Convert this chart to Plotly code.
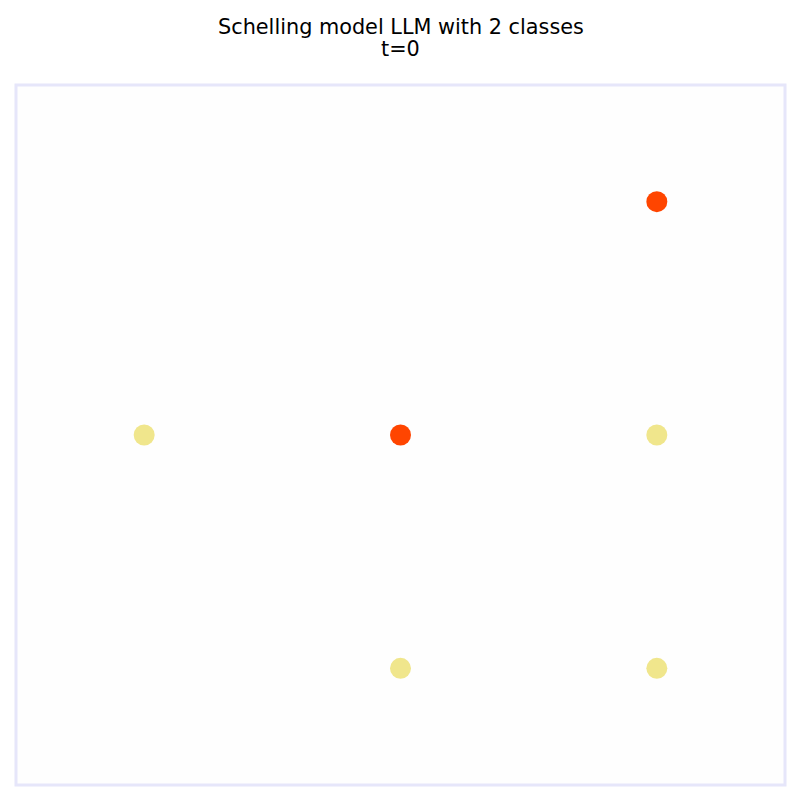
import plotly.graph_objects as go

# Grid cells occupied by agents (column, row) and their class
xs = [0, 1, 2, 2, 1, 2]
ys = [1, 1, 2, 1, 0, 0]
classes = ["khaki", "orangered", "orangered", "khaki", "khaki", "khaki"]
title_lines = ["Schelling model LLM with 2 classes", "t=0"]
grid_size = 3

fig = go.Figure()
fig.add_trace(go.Scatter(
    x=xs, y=ys, mode="markers",
    marker=dict(color=classes, size=21, line=dict(width=0)),
    hoverinfo="skip", showlegend=False,
))

H, T, B = 800, 84.5, 15
plot_h = H - T - B
line_centers_px = [26, 48]
for txt, ypx in zip(title_lines, line_centers_px):
    fig.add_annotation(text=txt, xref="paper", yref="paper", x=0.5,
                       y=(H - B - ypx) / plot_h, xanchor="center", yanchor="middle",
                       showarrow=False, font=dict(size=20.8, family="DejaVu Sans", color="black"))

fig.add_shape(type="rect", xref="paper", yref="paper", x0=0, x1=1, y0=0, y1=1,
              line=dict(color="#E6E6FA", width=3), fillcolor="rgba(0,0,0,0)", layer="above")

fig.update_layout(
    width=800, height=800,
    margin=dict(l=15.5, r=14.5, t=T, b=B),
    paper_bgcolor="white", plot_bgcolor="#fefefe",
    font=dict(family="DejaVu Sans", color="black"),
)
axis_common = dict(range=[-0.5, grid_size - 0.5], showgrid=False, zeroline=False,
                   showticklabels=False, ticks="", showline=False)
fig.update_xaxes(**axis_common)
fig.update_yaxes(**axis_common)

fig.write_html("out.html")
